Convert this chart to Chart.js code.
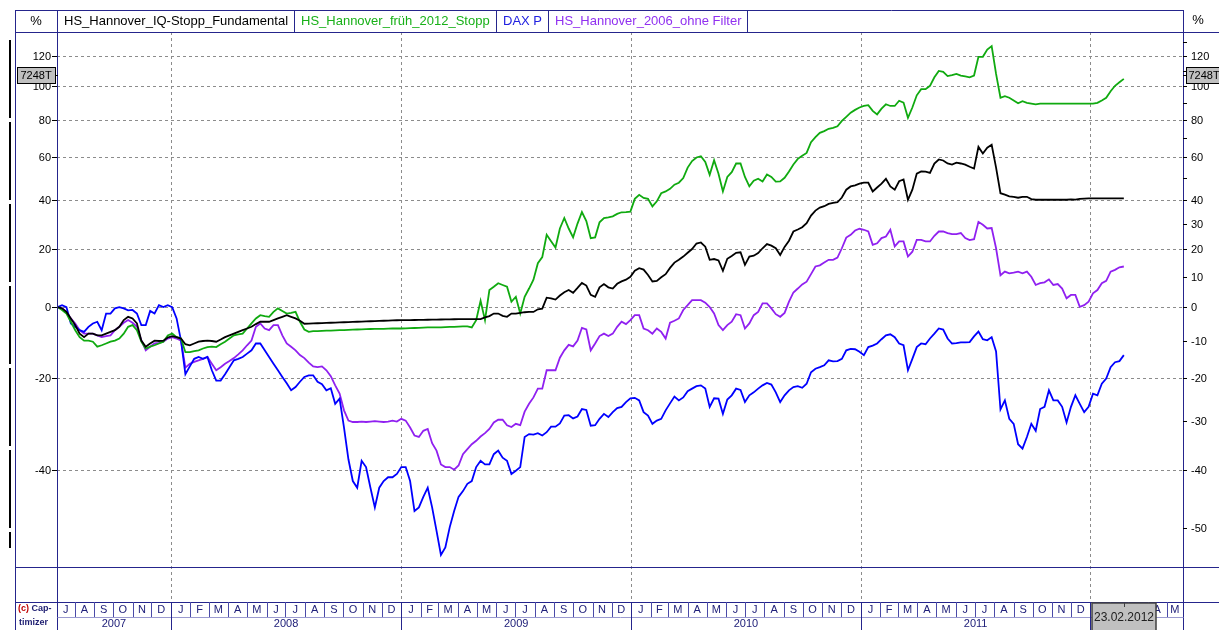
<!DOCTYPE html>
<html>
<head>
<meta charset="utf-8">
<script src="https://cdn.jsdelivr.net/npm/chart.js@4.4.1/dist/chart.umd.min.js"></script>
<style>
  html, body { margin: 0; padding: 0; background: #fff; }
  #chart { display: block; }
</style>
</head>
<body>
<canvas id="chart" width="1219" height="630" style="width:1219px;height:630px"></canvas>
<script>
const DAY = 86400000;
const dayOf = (y, m, d) => Date.UTC(y, m - 1, d) / DAY;
const toY = p => Math.log(1 + p / 100);   // chart uses a ratio (log) scale

// one sample per week, 05.07.2007 .. 23.02.2012
const sampleStart = dayOf(2007, 7, 5);
const sampleDays = Array.from({ length: 243 }, (_, i) => sampleStart + 7 * i);

// series values in %
const iqStopp = [
  0, -0.4, -1.5, -3.5, -5.5, -8, -9, -8, -8, -8.5,
  -8.5, -8, -7.5, -7, -6, -4, -3, -3.5, -5, -10,
  -11.7, -10.8, -10, -10.1, -10, -9.1, -8.7, -9, -9.4, -11,
  -11.3, -10.8, -10.3, -10.1, -10, -10.1, -10.3, -9.7, -9, -8.5,
  -8, -7.5, -7, -6.5, -6, -5.2, -4.5, -4.5, -4.5, -4,
  -3.5, -3, -2.5, -3, -3.5, -4.2, -5.1, -5.05, -5, -4.95,
  -4.9, -4.85, -4.8, -4.75, -4.7, -4.65, -4.6, -4.55, -4.5, -4.45,
  -4.4, -4.35, -4.3, -4.25, -4.2, -4.15, -4.1, -4.05, -4, -4,
  -4, -3.97, -3.95, -3.92, -3.9, -3.87, -3.85, -3.82, -3.8, -3.77,
  -3.75, -3.72, -3.7, -3.7, -3.7, -3.7, -3.7, -3.2, -2.8, -2,
  -2, -2.7, -3, -2, -2, -1.8, -1.6, -1.5, -1.5, -0.7,
  -0.5, 3, 2.8, 2.4, 3.7, 4.8, 5.5, 4.6, 6.2, 7.9,
  7, 3.9, 3.3, 6.4, 7.5, 6.4, 6, 7.6, 8.4, 9,
  10, 12.1, 13, 12.5, 10.6, 8.4, 8.6, 9.8, 10.9, 13.1,
  15, 16, 17.2, 18.6, 20, 22.1, 22.5, 20.9, 16, 16.3,
  15.8, 12.1, 16.4, 17.4, 18.6, 18.8, 14.2, 17.2, 17.5, 18.5,
  20.3, 21.9, 21.3, 20.3, 17.8, 20.8, 23.2, 26.8, 27.6, 28.5,
  30.2, 33.3, 35.4, 36.7, 37.3, 38.3, 38.7, 39, 41.1, 44.6,
  46.1, 46.6, 47.4, 47.8, 47.8, 43.8, 45.6, 47.4, 49.6, 46.1,
  44.6, 48.5, 49.3, 40.1, 44.6, 52.1, 53.1, 53, 52.4, 57,
  59, 58.5, 57, 56.5, 57.4, 57, 56.4, 55.4, 54.5, 65.4,
  62, 65, 66.5, 55, 43, 42.4, 41.6, 41.4, 41, 41.4,
  41.4, 40.4, 40.1, 40.1, 40.1, 40.1, 40.1, 40.1, 40.1, 40.1,
  40.3, 40.2, 40.5, 40.6, 40.7, 40.7, 40.7, 40.7, 40.7, 40.7,
  40.7, 40.7, 40.7
];
const frueh2012 = [
  0, -0.9, -2, -4.5, -7, -9, -10, -10, -10.3, -11.7,
  -11.3, -10.8, -10.3, -10, -9.4, -8, -6, -5.5, -7, -10.3,
  -12.2, -11.7, -11.3, -10.8, -10.3, -8.5, -8, -9, -9.4, -13.2,
  -13.2, -12.9, -12.7, -12.2, -11.8, -11.7, -11.8, -11, -10.3, -9.4,
  -8.5, -8.2, -8, -6.5, -5, -3.5, -2.5, -2.8, -3, -1.5,
  -0.4, -1.2, -2, -1.8, -1.5, -4.5, -6.8, -7.5, -7.3, -7.25,
  -7.2, -7.15, -7.1, -7.05, -7, -6.95, -6.9, -6.85, -6.8, -6.75,
  -6.7, -6.65, -6.6, -6.6, -6.6, -6.55, -6.5, -6.5, -6.5, -6.45,
  -6.4, -6.35, -6.3, -6.25, -6.2, -6.2, -6.2, -6.15, -6.1, -6.05,
  -6, -5.95, -5.9, -5.9, -6.2, -4, 2, -4, 5.5, 6.6,
  7.8, 7.2, 6.6, 1.7, 3.3, -2, 3.3, 6, 9, 14.8,
  17, 25.5, 23, 20.6, 28, 32.3, 28, 24.5, 30, 34.8,
  31, 24.2, 24.5, 30.5, 32.3, 32.6, 33, 34, 34.7, 34.8,
  35, 40.5, 42.3, 40.9, 40.5, 37.2, 39.4, 43, 43.8, 45,
  46.9, 47.8, 50, 55, 58.2, 60, 60.6, 57.8, 51.5, 58.6,
  52, 43.8, 50.5, 52.8, 57, 57, 50.5, 46.1, 48.7, 49.7,
  48.4, 51.7, 50.5, 48.3, 48.4, 50.1, 53.1, 56.5, 59.3, 60.9,
  62.3, 67.9, 70.6, 72.9, 73.8, 75.1, 75.6, 76.5, 79.5, 81.8,
  84.2, 85.8, 87.2, 88.1, 88.6, 85.2, 83.2, 86.5, 89.1, 88.1,
  88.1, 91.2, 90.1, 81.2, 87.2, 94.5, 98.3, 98.3, 100.4, 105.8,
  110, 109.4, 106.6, 107.2, 108, 106.9, 106.4, 105.8, 107, 119.5,
  119.5, 124.5, 127, 108, 93, 94, 93, 91.4, 89.7, 90.9,
  90, 89.5, 89, 89.5, 89.5, 89.5, 89.5, 89.5, 89.5, 89.5,
  89.5, 89.5, 89.5, 89.5, 89.5, 89.5, 90, 91.4, 93, 97,
  100.4, 102.6, 104.8
];
const daxP = [
  0, 0.6, 0, -5, -6, -7, -7.5, -6, -5, -4.5,
  -7, -2, -2, -0.4, 0, -0.4, -1, -0.9, -2, -5.5,
  -5.5, -1.2, -2, 0.6, 0, 0.6, 0, -3.5, -10, -19,
  -17, -15, -14.5, -15, -14.5, -18, -20.6, -20.6, -19, -17.2,
  -15.4, -15, -14.5, -13.6, -12.7, -10.8, -10.8, -12.7, -14.5, -16.3,
  -18, -19.7, -21.3, -23, -22.2, -20.9, -19.7, -19.3, -19.3, -20.9,
  -21.5, -23, -22.5, -26.2, -25, -31.5, -38, -42.1, -43.3, -38.3,
  -39.5, -43.3, -46.7, -43.3, -42.1, -41.4, -41.4, -40.8, -39.5, -39.5,
  -42.1, -47.3, -46.7, -44.9, -43.3, -46.7, -50.5, -54.1, -53, -49.9,
  -47.3, -44.9, -43.9, -42.6, -42.1, -39.5, -38.3, -39, -39, -37,
  -36.3, -37.7, -38.3, -40.8, -40.2, -39.5, -33.5, -32.9, -33, -32.7,
  -33.2, -32.5, -31.3, -31.3, -30.6, -28.9, -28.8, -29.5, -29.1, -27.4,
  -27.6, -31.1, -31, -29.6, -28.5, -29.2, -28.1, -27.2, -26.9, -25.8,
  -24.9, -24.8, -25.4, -28.1, -28.9, -30.7, -30, -29.6, -27.7, -26.1,
  -24.5, -25.4, -24.7, -23.2, -22.6, -22, -21.8, -22.6, -26.9, -24.9,
  -25, -28.5, -25.2, -24.2, -22.6, -22.9, -25.8, -24.2, -23.5, -22.6,
  -21.8, -21.2, -21.6, -23.5, -25.8, -24.2, -23, -22.2, -22, -22.4,
  -21.4, -18.5, -17.6, -17.2, -16.7, -15.4, -15.7, -15.6, -15, -12.7,
  -12.3, -12.4, -13.1, -14, -11.8, -11.4, -10.8, -9.6, -8.5, -8.2,
  -9, -10.8, -11.3, -18, -15, -11.8, -10.8, -11, -9.4, -8,
  -6.5, -6.8, -9.4, -10.8, -10.7, -10.5, -10.5, -10.4, -8.8, -7.4,
  -9.6, -9.9, -9, -13, -27.5, -25.4, -29.6, -30.7, -35, -35.9,
  -33.5, -30.7, -32.2, -27.4, -26.9, -23, -25.4, -25.4, -26.9, -30.4,
  -26.9, -24.2, -26.2, -28.1, -26.9, -23.8, -24.2, -21.4, -20.1, -17.2,
  -15.9, -15.6, -14
];
const ohneFilter = [
  0, -0.4, -1.5, -3.5, -5, -7, -8, -8, -8, -8.5,
  -9, -8.7, -8.5, -7, -6, -4.8, -4, -4.8, -6, -9.9,
  -12.7, -11.7, -10.8, -10.6, -10.3, -9.4, -9, -9.4, -10, -17.3,
  -16.3, -15.8, -15.4, -15, -14.5, -16.3, -18, -17.2, -16.3, -15.6,
  -14.8, -13.8, -12.7, -11.3, -10, -6, -5, -6.5, -7, -5.5,
  -5.5, -8.5, -10.8, -11.7, -12.7, -14, -14.8, -16, -17, -17.2,
  -17, -18, -19.5, -21.8, -23.8, -27.7, -30, -30.3, -30.3, -30.2,
  -30.3, -30.2, -30.1, -30.2, -30.3, -30.2, -30, -30.2, -29.6, -30,
  -31.5, -33.2, -33.5, -32.2, -31.8, -34.8, -36.3, -39, -39.5, -39.5,
  -40, -39.2, -37, -36, -35, -34.3, -33.4, -32.7, -31.8, -30.4,
  -29.8, -29.8, -31, -31.4, -30.7, -31, -28, -26.2, -24.7, -22.6,
  -22.6, -18, -18, -18, -14.7, -12.7, -11.2, -11.6, -10, -6.3,
  -6.8, -12.7, -10.8, -8.7, -8, -8.7, -8, -6, -4.5, -5.2,
  -4, -2.5, -2.5, -6.5, -7, -8, -6.5, -7.5, -9.4, -4.8,
  -4.2, -3.5, -0.9, 0.6, 2.2, 2.2, 2.2, 1.4, 0, -2,
  -5.5, -7, -5.5, -4.5, -2.2, -2.5, -6.5, -5, -2.5, -1.5,
  1.2, 1.2, -0.4, -2.2, -3, -1.8, 1.7, 4.7, 6, 7.4,
  8.3, 10.9, 13.6, 14, 15, 16, 16, 16.8, 20.3, 24.4,
  25.5, 27.2, 27.9, 27.5, 26.8, 21.6, 22.2, 24.2, 24.8, 27.5,
  21, 22.9, 22.9, 17.2, 19, 23.5, 23.5, 22.9, 22.9, 25.1,
  26.8, 26.8, 26.2, 25.8, 25.8, 26.2, 24.2, 23.4, 23.8, 30.7,
  29.5, 28, 28.2, 20.3, 10.5, 11.8, 11.2, 11.4, 11.8, 11.2,
  11.8, 10, 7.2, 7.8, 8.1, 9.1, 7.2, 7.5, 6, 2.8,
  3.9, 3.9, 0.1, 0.6, 1.7, 4.4, 5.5, 7.8, 8.6, 11.8,
  12.4, 13.3, 13.6
];

const seriesNames  = ['HS_Hannover_IQ-Stopp_Fundamental', 'HS_Hannover_früh_2012_Stopp', 'DAX P', 'HS_Hannover_2006_ohne Filter'];
const seriesColors = ['#000000', '#10aa10', '#0000ff', '#9020f0'];
const legendColors = ['#000000', '#18b018', '#2020e0', '#9030f0'];

const leftTicks  = [120, 100, 80, 60, 40, 20, 0, -20, -40];
const rightTicks = [120, 100, 80, 60, 40, 30, 20, 10, 0, -10, -20, -30, -40, -50];
const rightMinor = [130, 110, 90, 70, 50];
const monthLetters = ['J', 'F', 'M', 'A', 'M', 'J', 'J', 'A', 'S', 'O', 'N', 'D'];
const years = [2007, 2008, 2009, 2010, 2011];
const lastDateLabel = '23.02.2012';
const markerPct = 107;
const markerText = '7248T';

const FRAME = '#25258c';
const FONT = '"Liberation Sans", Arial, sans-serif';

const toPoints = vals => vals.map((v, i) => ({ x: sampleDays[i], y: toY(v) }));

const line = (ctx, x1, y1, x2, y2) => {
  ctx.beginPath(); ctx.moveTo(x1, y1); ctx.lineTo(x2, y2); ctx.stroke();
};

const chartFrame = {
  id: 'chartFrame',
  beforeDatasetsDraw(chart) {
    const { ctx, chartArea: a, scales: { x, y } } = chart;
    ctx.save();
    ctx.strokeStyle = '#8c8c8c';
    ctx.lineWidth = 1;
    ctx.setLineDash([3, 3]);
    leftTicks.forEach(p => {
      const py = Math.round(y.getPixelForValue(toY(p))) + 0.5;
      line(ctx, a.left, py, a.right, py);
    });
    for (let yr = 2008; yr <= 2012; yr++) {
      const px = Math.round(x.getPixelForValue(dayOf(yr, 1, 1))) + 0.5;
      line(ctx, px, a.top, px, 602);
    }
    ctx.restore();
  },
  afterDatasetsDraw(chart) {
    const { ctx, chartArea: a, scales: { x, y } } = chart;
    const L = a.left + 0.5, R = a.right + 0.5;
    ctx.save();

    // frame
    ctx.strokeStyle = FRAME;
    ctx.lineWidth = 1;
    line(ctx, 15.5, 10, 15.5, 630);
    line(ctx, L, 10, L, 630);
    line(ctx, R, 10, R, 630);
    line(ctx, 15, 10.5, R, 10.5);
    line(ctx, 15, 32.5, 1219, 32.5);
    line(ctx, 15, 567.5, 1219, 567.5);
    line(ctx, 15, 602.5, 1219, 602.5);
    ctx.strokeStyle = '#9a9ad0';
    line(ctx, L, 617.5, R, 617.5);

    // black bar on the far left
    ctx.strokeStyle = '#000';
    ctx.lineWidth = 2;
    ctx.setLineDash([78, 4]);
    line(ctx, 10, 40, 10, 548);
    ctx.setLineDash([]);

    // legend cells
    ctx.font = '13px ' + FONT;
    ctx.textBaseline = 'middle';
    ctx.fillStyle = '#000';
    ctx.textAlign = 'center';
    ctx.fillText('%', 36, 21.5);
    ctx.fillText('%', 1198, 20.5);
    ctx.textAlign = 'left';
    let cx = a.left;
    ctx.lineWidth = 1;
    seriesNames.forEach((name, i) => {
      ctx.fillStyle = legendColors[i];
      ctx.fillText(name, cx + 7, 21.5);
      cx += Math.round(ctx.measureText(name).width) + 13;
      ctx.strokeStyle = FRAME;
      line(ctx, cx + 0.5, 10, cx + 0.5, 32);
    });

    // left axis
    ctx.font = '11px ' + FONT;
    ctx.fillStyle = '#000';
    ctx.strokeStyle = '#000';
    ctx.textAlign = 'right';
    leftTicks.forEach(p => {
      const py = Math.round(y.getPixelForValue(toY(p))) + 0.5;
      line(ctx, 52, py, a.left, py);
      ctx.fillText(String(p), 51, py);
    });
    // right axis
    ctx.textAlign = 'left';
    rightTicks.forEach(p => {
      const py = Math.round(y.getPixelForValue(toY(p))) + 0.5;
      line(ctx, a.right, py, a.right + 4, py);
      ctx.fillText(String(p), a.right + 8, py);
    });
    rightMinor.forEach(p => {
      const py = Math.round(y.getPixelForValue(toY(p))) + 0.5;
      line(ctx, a.right, py, a.right + 4, py);
    });

    // last-value markers
    const my = Math.round(y.getPixelForValue(toY(markerPct)));
    ctx.fillStyle = '#c0c0c0';
    ctx.strokeStyle = '#000';
    ctx.fillRect(17, my - 8, 38, 16);
    ctx.strokeRect(17.5, my - 7.5, 38, 16);
    ctx.fillRect(a.right + 3, my - 8, 36, 16);
    ctx.strokeRect(a.right + 3.5, my - 7.5, 36, 16);
    line(ctx, 55, my + 0.5, a.left + 1, my + 0.5);
    line(ctx, a.right, my + 0.5, a.right + 3, my + 0.5);
    ctx.fillStyle = '#000';
    ctx.textAlign = 'center';
    ctx.fillText(markerText, 36, my + 0.5);
    ctx.fillText(markerText, a.right + 21, my + 0.5);

    // time band: months
    ctx.font = '11px ' + FONT;
    ctx.fillStyle = '#20207a';
    for (let yr = 2007; yr <= 2012; yr++) {
      for (let m = 1; m <= 12; m++) {
        const s = x.getPixelForValue(dayOf(yr, m, 1));
        const e = x.getPixelForValue(dayOf(m === 12 ? yr + 1 : yr, m === 12 ? 1 : m + 1, 1));
        if (e <= a.left || s >= a.right) continue;
        const cs = Math.max(s, a.left), ce = Math.min(e, a.right);
        if (s > a.left) {
          ctx.strokeStyle = m === 1 ? FRAME : '#4a4aa8';
          line(ctx, Math.round(s) + 0.5, 602, Math.round(s) + 0.5, m === 1 ? 630 : 617);
        }
        if (ce - cs > 8) ctx.fillText(monthLetters[m - 1], (cs + ce) / 2, 610);
      }
    }
    years.forEach(yr => {
      const s = Math.max(x.getPixelForValue(dayOf(yr, 1, 1)), a.left);
      const e = Math.min(x.getPixelForValue(dayOf(yr + 1, 1, 1)), a.right);
      ctx.fillText(String(yr), (s + e) / 2, 624);
    });

    // last date box
    const lx = Math.round(x.getPixelForValue(sampleDays[sampleDays.length - 1]));
    ctx.fillStyle = '#c0c0c0';
    ctx.fillRect(lx - 32, 603, 64, 27);
    ctx.strokeStyle = '#404040';
    ctx.lineWidth = 1.5;
    ctx.strokeRect(lx - 32, 603, 64, 28);
    ctx.lineWidth = 1;
    line(ctx, lx + 0.5, 603, lx + 0.5, 607);
    ctx.fillStyle = '#202020';
    ctx.font = '12px ' + FONT;
    ctx.fillText(lastDateLabel, lx, 618);

    // copyright
    ctx.textAlign = 'left';
    ctx.font = 'bold 9px ' + FONT;
    ctx.fillStyle = '#c00000';
    ctx.fillText('(c)', 18, 609);
    ctx.fillStyle = '#1c1c70';
    ctx.fillText('Cap-', 18 + ctx.measureText('(c) ').width, 609);
    ctx.fillText('timizer', 19, 623);

    ctx.restore();
  }
};

new Chart(document.getElementById('chart'), {
  type: 'line',
  data: {
    datasets: [
      { label: seriesNames[0], data: toPoints(iqStopp),    borderColor: seriesColors[0] },
      { label: seriesNames[1], data: toPoints(frueh2012),  borderColor: seriesColors[1] },
      { label: seriesNames[2], data: toPoints(daxP),       borderColor: seriesColors[2] },
      { label: seriesNames[3], data: toPoints(ohneFilter), borderColor: seriesColors[3] },
    ],
  },
  options: {
    responsive: false,
    animation: false,
    events: [],
    devicePixelRatio: 1,
    layout: { padding: { left: 57, right: 36, top: 32, bottom: 63 } },
    elements: {
      line: { borderWidth: 1.8, tension: 0, fill: false },
      point: { radius: 0 },
    },
    plugins: { legend: { display: false }, tooltip: { enabled: false } },
    scales: {
      x: { type: 'linear', display: false, min: dayOf(2007, 7, 4), max: dayOf(2012, 5, 27) },
      y: { type: 'linear', display: false, min: toY(-55.8), max: toY(137.3) },
    },
  },
  plugins: [chartFrame],
});
</script>
</body>
</html>
